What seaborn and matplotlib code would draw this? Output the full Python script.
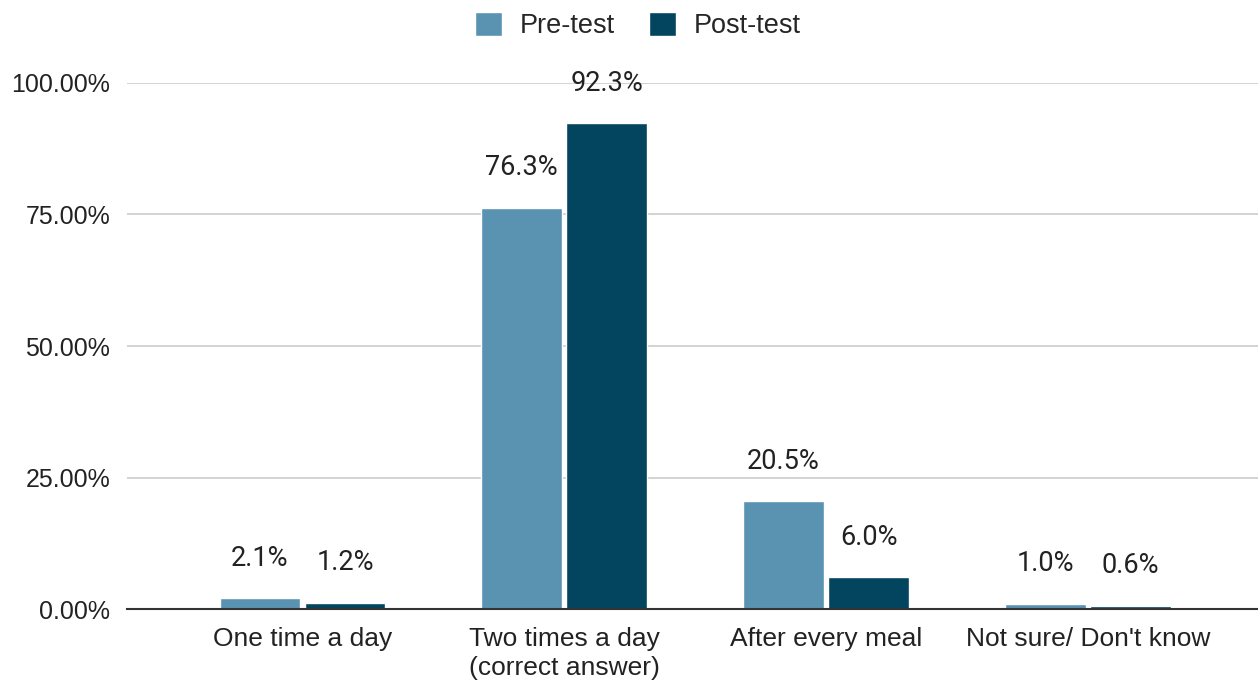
import matplotlib
matplotlib.use("Agg")
import matplotlib.pyplot as plt
import seaborn as sns
import pandas as pd
from matplotlib.ticker import FuncFormatter

categories = ["One time a day", "Two times a day\n(correct answer)", "After every meal", "Not sure/ Don't know"]
series_names = ["Pre-test", "Post-test"]
pre_test = [2.1, 76.3, 20.5, 1.0]
post_test = [1.2, 92.3, 6.0, 0.6]
y_ticks = [0, 25, 50, 75, 100]

colors = ["#5a93b1", "#03445f"]

df = pd.DataFrame({
    "category": categories * 2,
    "value": pre_test + post_test,
    "test": [series_names[0]] * len(categories) + [series_names[1]] * len(categories),
})

sns.set_theme(style="white")
plt.rcParams["font.family"] = ["Liberation Sans", "DejaVu Sans"]

fig = plt.figure(figsize=(12.58, 6.83), dpi=100)
ax = fig.add_axes([0.101, 0.1083, 0.899, 0.7702])

sns.barplot(data=df, x="category", y="value", hue="test", hue_order=series_names,
            order=categories, palette=colors, width=0.65, gap=0.05,
            saturation=1, ax=ax, legend=True)

ax.set_xlim(-0.67, 3.65)
ax.set_ylim(0, 100)
ax.set_yticks(y_ticks)
ax.yaxis.set_major_formatter(FuncFormatter(lambda v, p: f"{v:.2f}%"))
ax.grid(axis="y", color="#cccccc", linewidth=1.2)
ax.set_axisbelow(True)
for s in ["top", "right", "left"]:
    ax.spines[s].set_visible(False)
ax.spines["bottom"].set_color("#333333")
ax.spines["bottom"].set_linewidth(1.5)
ax.spines["bottom"].set_zorder(5)
ax.set_xlabel("")
ax.set_ylabel("")
ax.tick_params(axis="both", length=0, colors="#222222")
ax.tick_params(axis="x", pad=13, labelsize=19)
ax.tick_params(axis="y", pad=12, labelsize=18)
for t in ax.get_xticklabels():
    t.set_linespacing(1.25)

for cont in ax.containers:
    ax.bar_label(cont, fmt="%.1f%%", padding=19, fontsize=19.5, color="#222222",
                 family=["Roboto", "DejaVu Sans"], clip_on=False)

handles, labels = ax.get_legend_handles_labels()
ax.get_legend().remove()
fig.legend(handles, labels, loc="upper center", bbox_to_anchor=(0.507, 1.018), ncol=2,
           frameon=False, fontsize=19.5, handlelength=1.0, handleheight=1.0,
           handletextpad=0.65, columnspacing=1.25)

fig.savefig("out.png", dpi=100, facecolor="white")
